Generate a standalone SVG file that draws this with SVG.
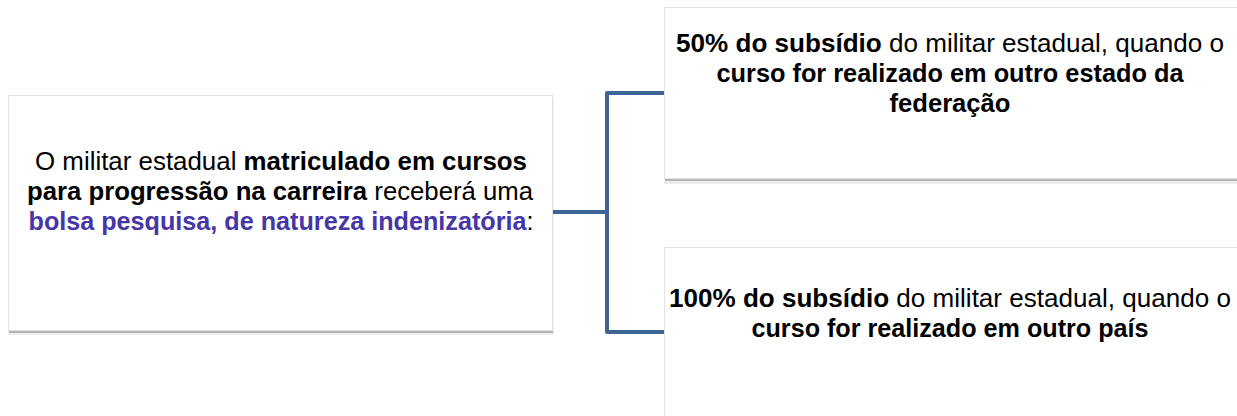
<svg xmlns="http://www.w3.org/2000/svg" width="1237" height="416" viewBox="0 0 1237 416">
  <style>
    .box { fill: #ffffff; stroke: #e3e3e3; stroke-width: 1; }
    .shadow { fill: #b5b5b5; }
    .halo { fill: #ececec; }
    .t { font-family: "Liberation Sans", Arial, sans-serif; font-size: 26px; fill: #000000; text-anchor: middle; }
    .b { font-weight: bold; }
    .p { fill: #4636a8; font-weight: bold; }
    .conn { fill: none; stroke: #3c6596; stroke-width: 4; stroke-linejoin: round; }
  </style>
  <rect width="1237" height="416" fill="#ffffff"/>

  <g id="node-main">
    <rect class="halo" x="8" y="98" width="546" height="237"/>
    <rect class="shadow" x="9" y="97" width="544" height="236"/>
    <rect class="box" x="8.5" y="95.5" width="544" height="235"/>
    <text class="t" x="281" y="170" textLength="492" lengthAdjust="spacingAndGlyphs">O militar estadual <tspan class="b">matriculado em cursos</tspan></text>
    <text class="t" x="280" y="200" textLength="506" lengthAdjust="spacingAndGlyphs"><tspan class="b">para progressão na carreira</tspan> receberá uma</text>
    <text class="t" x="281" y="230" textLength="505" lengthAdjust="spacingAndGlyphs"><tspan class="p">bolsa pesquisa, de natureza indenizatória</tspan>:</text>
  </g>

  <g id="node-50">
    <rect class="halo" x="664" y="10" width="575" height="174"/>
    <rect class="shadow" x="665" y="9" width="573" height="172"/>
    <rect class="box" x="664.5" y="7.5" width="573" height="171"/>
    <text class="t" x="950" y="52" textLength="548" lengthAdjust="spacingAndGlyphs"><tspan class="b">50% do subsídio</tspan> do militar estadual, quando o</text>
    <text class="t b" x="950" y="82" textLength="467" lengthAdjust="spacingAndGlyphs">curso for realizado em outro estado da</text>
    <text class="t b" x="950" y="112" textLength="121" lengthAdjust="spacingAndGlyphs">federação</text>
  </g>

  <g id="node-100">
    <rect class="shadow" x="665" y="249" width="573" height="180"/>
    <rect class="box" x="664.5" y="247.5" width="573" height="180"/>
    <text class="t" x="950" y="307" textLength="562" lengthAdjust="spacingAndGlyphs"><tspan class="b">100% do subsídio</tspan> do militar estadual, quando o</text>
    <text class="t b" x="950" y="337" textLength="397" lengthAdjust="spacingAndGlyphs">curso for realizado em outro país</text>
  </g>

  <g id="connectors">
    <path class="conn" d="M553,212 H607"/>
    <path class="conn" d="M664,93 H607 V332 H664"/>
  </g>
</svg>
